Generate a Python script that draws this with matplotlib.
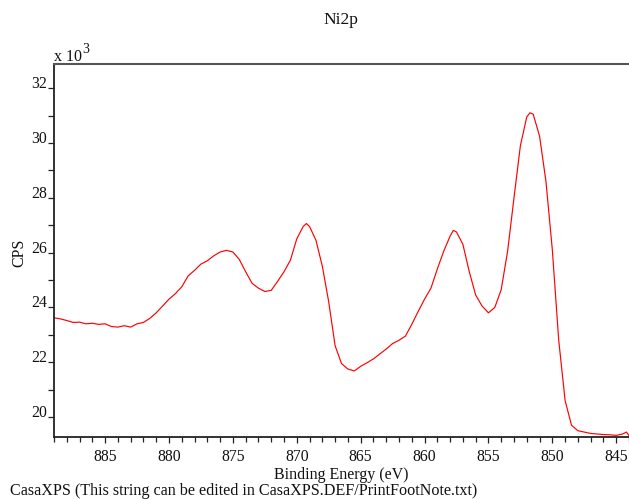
import matplotlib
matplotlib.use("Agg")
import matplotlib.pyplot as plt
from matplotlib.ticker import MultipleLocator, FuncFormatter

# Ni 2p spectrum: binding energy (eV) and counts per second (x 10^3)
binding_energy = [
    889.0, 888.5, 888.0, 887.5, 887.0, 886.5, 886.0, 885.5, 885.0, 884.5,
    884.0, 883.5, 883.0, 882.5, 882.0, 881.5, 881.0, 880.5, 880.0, 879.5,
    879.0, 878.5, 878.0, 877.5, 877.0, 876.5, 876.0, 875.5, 875.0, 874.5,
    874.0, 873.5, 873.0, 872.5, 872.0, 871.5, 871.0, 870.5, 870.0, 869.5,
    869.25, 869.0, 868.5, 868.0, 867.5, 867.0, 866.5, 866.0, 865.5, 865.0,
    864.5, 864.0, 863.5, 863.0, 862.5, 862.0, 861.5, 861.0, 860.5, 860.0,
    859.5, 859.0, 858.5, 858.0, 857.75, 857.5, 857.0, 856.5, 856.0, 855.5,
    855.0, 854.5, 854.0, 853.5, 853.0, 852.5, 852.0, 851.75, 851.5, 851.0,
    850.5, 850.0, 849.5, 849.0, 848.5, 848.0, 847.5, 847.0, 846.5, 846.0,
    845.5, 845.0, 844.5, 844.2, 844.0,
]
cps_k = [
    23.62, 23.58, 23.52, 23.45, 23.46, 23.40, 23.42, 23.38, 23.40, 23.30,
    23.28, 23.33, 23.28, 23.40, 23.45, 23.60, 23.80, 24.05, 24.30, 24.50,
    24.75, 25.15, 25.35, 25.58, 25.70, 25.88, 26.02, 26.08, 26.02, 25.75,
    25.30, 24.88, 24.70, 24.58, 24.62, 24.95, 25.30, 25.72, 26.50, 26.95,
    27.06, 26.95, 26.45, 25.50, 24.20, 22.60, 21.95, 21.75, 21.68, 21.85,
    21.98, 22.12, 22.30, 22.48, 22.68, 22.80, 22.95, 23.38, 23.85, 24.30,
    24.70, 25.40, 26.05, 26.60, 26.81, 26.75, 26.30, 25.30, 24.45, 24.05,
    23.80, 24.00, 24.65, 26.05, 28.00, 29.90, 30.95, 31.10, 31.05, 30.25,
    28.60, 26.10, 22.80, 20.60, 19.70, 19.50, 19.45, 19.40, 19.38, 19.36,
    19.35, 19.33, 19.38, 19.45, 19.32,
]

title_text = "Ni2p"
x_label = "Binding Energy (eV)"
y_label = "CPS"
scale_base = "x 10"
scale_exp = "3"
footnote = "CasaXPS (This string can be edited in CasaXPS.DEF/PrintFootNote.txt)"

plt.rcParams["font.family"] = ["Liberation Serif", "DejaVu Serif"]

fig = plt.figure(figsize=(6.29, 4.99), dpi=100)
ax = fig.add_axes([54 / 629, 1 - 437 / 499, 1 - 54 / 629, (437 - 64) / 499])

ax.plot(binding_energy, cps_k, color="#ff0000", lw=0.85)

ax.set_xlim(889.0, 844.0)
ax.set_ylim(19.27, 32.88)

ax.xaxis.set_major_locator(MultipleLocator(5))
ax.xaxis.set_minor_locator(MultipleLocator(1))
ax.yaxis.set_major_locator(MultipleLocator(2))
ax.yaxis.set_minor_locator(MultipleLocator(1))
ax.xaxis.set_major_formatter(FuncFormatter(lambda v, p: f"{v:.0f}"))
ax.yaxis.set_major_formatter(FuncFormatter(lambda v, p: f"{v:.0f}"))

ax.tick_params(axis="both", which="both", direction="out", colors="#222222",
               labelsize=11.3, labelcolor="#111111")
ax.tick_params(axis="x", which="major", length=4.5, width=0.9, pad=4)
ax.tick_params(axis="x", which="minor", length=3.5, width=0.9)
ax.tick_params(axis="y", which="major", length=4.5, width=0.9, pad=0.5)
ax.tick_params(axis="y", which="minor", length=4.0, width=0.9)
for lbl in ax.get_yticklabels():
    lbl.set_verticalalignment("baseline")

ax.spines["right"].set_visible(False)
for side in ("left", "bottom"):
    ax.spines[side].set_linewidth(1.3)
    ax.spines[side].set_color("#222222")
ax.spines["top"].set_linewidth(1.5)
ax.spines["top"].set_color("#555555")

fig.text(341 / 629, 1 - 20 / 499, title_text, ha="center", va="center",
         fontsize=12.5, color="#111111")
fig.text(54 / 629, 1 - 61 / 499, scale_base, ha="left", va="baseline",
         fontsize=11.5, color="#111111")
fig.text(82 / 629, 1 - 53 / 499, scale_exp, ha="left", va="baseline",
         fontsize=10, color="#111111")
fig.text(341 / 629, 1 - 475 / 499, x_label, ha="center", va="center",
         fontsize=11.5, color="#111111")
fig.text(19 / 629, 1 - 253 / 499, y_label, ha="center", va="center",
         rotation=90, fontsize=11.5, color="#111111")
fig.text(10 / 629, 1 - 491 / 499, footnote, ha="left", va="center",
         fontsize=11.6, color="#111111")

fig.savefig("out.png", dpi=100)
